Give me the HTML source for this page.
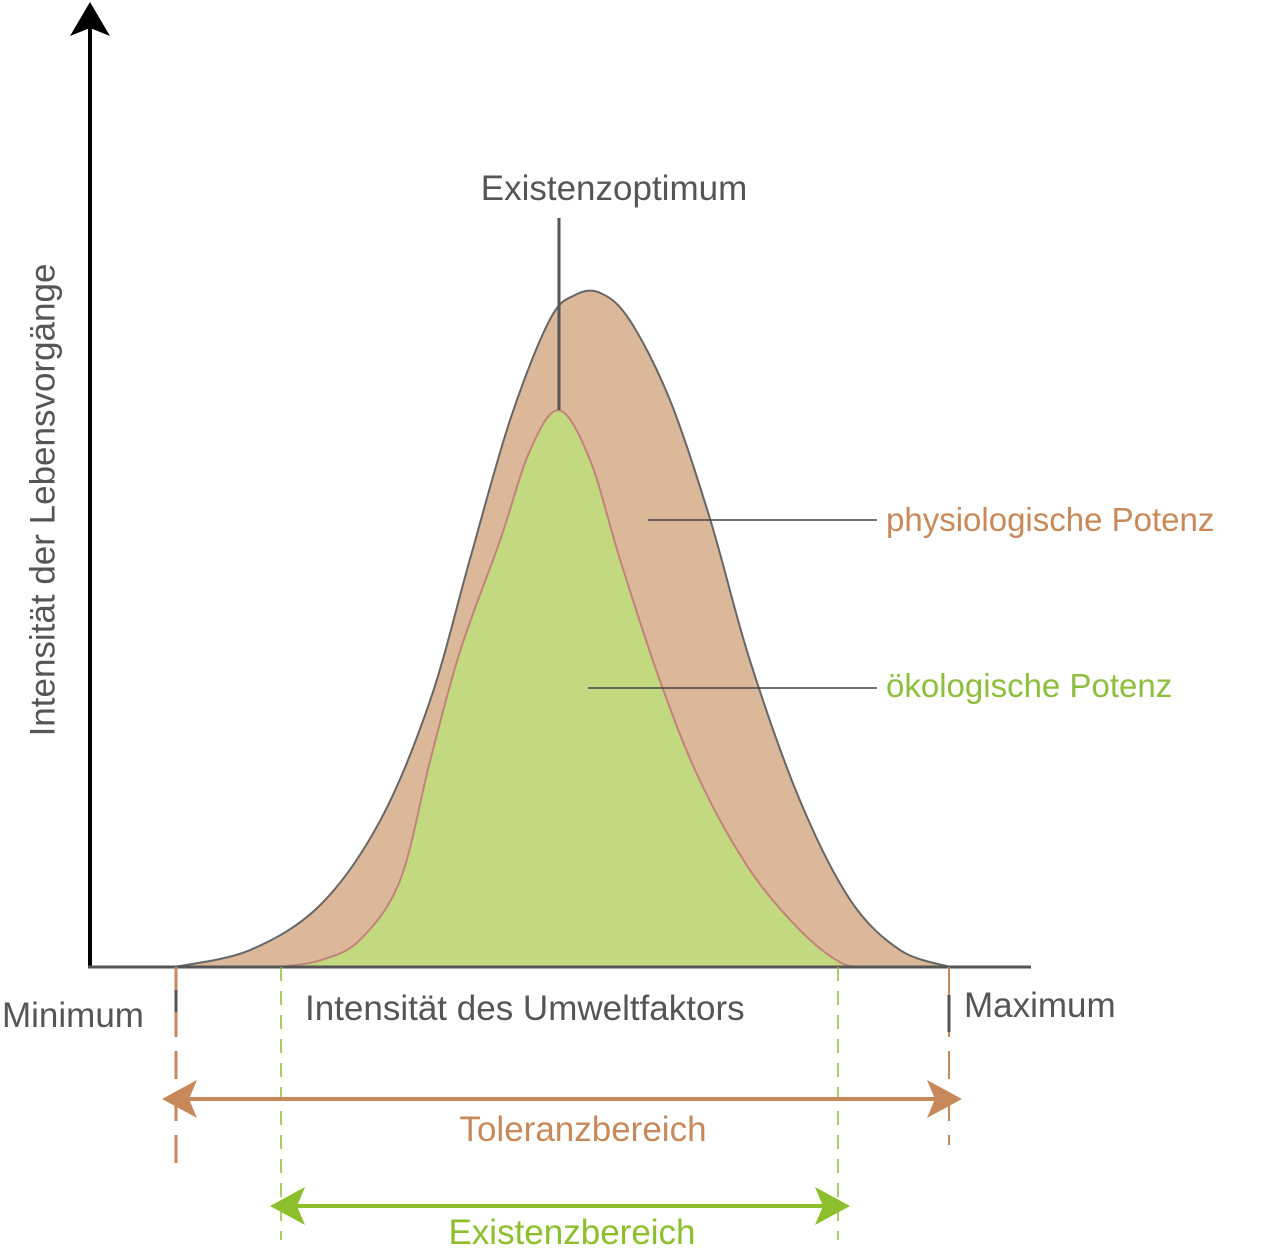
<!DOCTYPE html>
<html><head><meta charset="utf-8">
<style>
html,body{margin:0;padding:0;background:#fff;}
svg{display:block;font-family:"Liberation Sans","DejaVu Sans",sans-serif;}
</style></head>
<body>
<svg id="chart" width="1273" height="1258" viewBox="0 0 1273 1258">
  <g id="curves"></g>
  <!-- axes -->
  <line x1="90" y1="967" x2="90" y2="20" stroke="#000" stroke-width="4"/>
  <polygon points="90,2 70,36 90,28 110,36" fill="#000"/>
  <line x1="88" y1="967" x2="1031" y2="967" stroke="#555" stroke-width="3"/>
  <text x="45" y="500" transform="rotate(-90 45 500)" text-anchor="middle" font-size="35" fill="#555" dominant-baseline="middle">Intensität der Lebensvorgänge</text>
  <text x="614" y="200" text-anchor="middle" font-size="35" fill="#555">Existenzoptimum</text>
  <line x1="559" y1="218" x2="559" y2="410" stroke="#555" stroke-width="3"/>
  <line x1="648" y1="520" x2="877" y2="520" stroke="#444" stroke-width="1.5"/>
  <text x="886" y="531" font-size="33" fill="#c8895a">physiologische Potenz</text>
  <line x1="588" y1="688" x2="877" y2="688" stroke="#444" stroke-width="1.5"/>
  <text x="886" y="697" font-size="33" fill="#8dbe3c">ökologische Potenz</text>
  <text x="2" y="1027" font-size="35" fill="#555">Minimum</text>
  <text x="964" y="1017" font-size="35" fill="#555">Maximum</text>
  <text x="305" y="1020" font-size="35" fill="#555">Intensität des Umweltfaktors</text>
  <!-- dashed bounds -->
  <line x1="176" y1="967" x2="176" y2="1165" stroke="#c8895a" stroke-width="3" stroke-dasharray="28,14"/>
  <line x1="176" y1="990" x2="176" y2="1012" stroke="#555" stroke-width="3"/>
  <line x1="949" y1="967" x2="949" y2="1145" stroke="#c8895a" stroke-width="2" stroke-dasharray="28,14"/>
  <line x1="949" y1="995" x2="949" y2="1032" stroke="#555" stroke-width="3"/>
  <line x1="281" y1="967" x2="281" y2="1240" stroke="#8dbe3c" stroke-width="1.5" stroke-dasharray="14,10"/>
  <line x1="838" y1="967" x2="838" y2="1240" stroke="#8dbe3c" stroke-width="1.5" stroke-dasharray="14,10"/>
  <!-- arrows -->
  <line x1="185" y1="1099" x2="940" y2="1099" stroke="#c8895a" stroke-width="4"/>
  <polygon points="162,1099 197,1080 189,1099 197,1118" fill="#c8895a"/>
  <polygon points="962,1099 927,1080 935,1099 927,1118" fill="#c8895a"/>
  <text x="583" y="1141" text-anchor="middle" font-size="35" fill="#c8895a">Toleranzbereich</text>
  <line x1="290" y1="1206" x2="830" y2="1206" stroke="#8dbe2c" stroke-width="4"/>
  <polygon points="270,1206 305,1187 297,1206 305,1225" fill="#8dbe2c"/>
  <polygon points="850,1206 815,1187 823,1206 815,1225" fill="#8dbe2c"/>
  <text x="572" y="1244" text-anchor="middle" font-size="35" fill="#8dbe2c">Existenzbereich</text>
</svg>
<script>
const outerX = [9.0,17.0,24.5,30.9,36.2,40.4,44.7,48.9,51.6,54.3,57.4,61.7,66.0,70.2,75.5,80.9,86.2,91.5];
const outerY = [0,2.5,9.2,21.8,39.6,60.4,81.2,96.0,99.7,100,96,84.1,66.3,45.5,24.8,9.9,2.5,0];
const innerX = [20.2,24.5,28.7,33.0,36.2,39.4,43.6,46.8,49.9,53.2,56.4,60.6,64.9,70.2,75.5,79.8,82.4];
const innerY = [0,1.0,4.0,12.9,30.7,47.0,63.2,76.6,82.6,75.2,60.4,42.6,27.6,14.4,5.5,0.7,0];
function xs(v){return 90 + v*9.4;}
function ys(v){return 967 - v*6.74;}
function pathFrom(X,Y){
  const p = X.map((x,i)=>[xs(x),ys(Y[i])]);
  let d = 'M'+p[0][0]+','+p[0][1];
  for(let i=0;i<p.length-1;i++){
    const p0=p[Math.max(0,i-1)],p1=p[i],p2=p[i+1],p3=p[Math.min(p.length-1,i+2)];
    const c1=[p1[0]+(p2[0]-p0[0])/6,p1[1]+(p2[1]-p0[1])/6];
    const c2=[p2[0]-(p3[0]-p1[0])/6,p2[1]-(p3[1]-p1[1])/6];
    d+=' C'+c1[0]+','+c1[1]+' '+c2[0]+','+c2[1]+' '+p2[0]+','+p2[1];
  }
  return d;
}
const g = document.getElementById('curves');
const ns='http://www.w3.org/2000/svg';
const outer = document.createElementNS(ns,'path');
outer.setAttribute('d', pathFrom(outerX,outerY)+' Z');
outer.setAttribute('fill','#dcb89a');
outer.setAttribute('stroke','#666');
outer.setAttribute('stroke-width','2');


g.appendChild(outer);
const inner = document.createElementNS(ns,'path');
inner.setAttribute('d', pathFrom(innerX,innerY)+' Z');
inner.setAttribute('fill','#c2d97f');
inner.setAttribute('stroke','#c4837a');
inner.setAttribute('stroke-width','2');


g.appendChild(inner);
</script>
</body></html>
